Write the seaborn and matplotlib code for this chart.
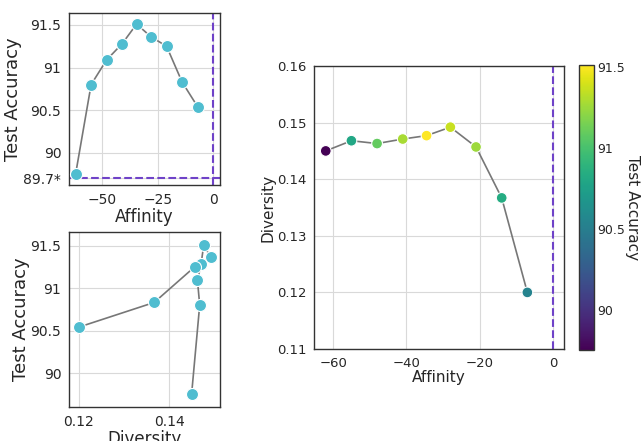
import numpy as np
import pandas as pd
import matplotlib
matplotlib.use('Agg')
import matplotlib.pyplot as plt
import seaborn as sns

affinity = [-62, -55, -48, -41, -34.5, -28, -21, -14, -7]
diversity = [0.1450, 0.1468, 0.1463, 0.1471, 0.1477, 0.1492, 0.1457, 0.1367, 0.1200]
accuracy = [89.75, 90.80, 91.09, 91.28, 91.51, 91.36, 91.25, 90.83, 90.54]
baseline_acc = 89.7
baseline_aff = 0

df = pd.DataFrame({'Affinity': affinity, 'Diversity': diversity, 'Test Accuracy': accuracy})

sns.set_style('whitegrid')
plt.rcParams['axes.edgecolor'] = '#333333'
plt.rcParams['axes.linewidth'] = 1.0
plt.rcParams['grid.color'] = '#d9d9d9'

purple = '#6f42c8'
dot = '#4fbdd0'
line_c = '#777777'

fig = plt.figure(figsize=(6.41, 4.41), dpi=100)
ax1 = fig.add_axes([0.1076, 0.5805, 0.2356, 0.390])
ax2 = fig.add_axes([0.1076, 0.0771, 0.2356, 0.397])
ax3 = fig.add_axes([0.4899, 0.2086, 0.390, 0.6417])
cax = fig.add_axes([0.9033, 0.2063, 0.0234, 0.646])

# accuracy vs affinity
sns.lineplot(data=df, x='Affinity', y='Test Accuracy', sort=False, color=line_c, lw=1.2, ax=ax1)
sns.scatterplot(data=df, x='Affinity', y='Test Accuracy', color=dot, s=75, edgecolor='white', linewidth=0.8, zorder=3, ax=ax1)
ax1.axhline(baseline_acc, color=purple, ls='--', lw=1.5)
ax1.axvline(baseline_aff, color=purple, ls='--', lw=1.5)
ax1.set_xlim(-65, 3.1)
ax1.set_ylim(89.62, 91.64)
ax1.set_yticks([89.7, 90, 90.5, 91, 91.5])
ax1.set_yticklabels(['89.7*', '90', '90.5', '91', '91.5'])
ax1.set_xticks([-50, -25, 0])
ax1.tick_params(labelsize=10, pad=2)
ax1.set_xlabel('Affinity', fontsize=12, labelpad=1)
ax1.set_ylabel('Test Accuracy', fontsize=13, labelpad=1)

# accuracy vs diversity
sns.lineplot(data=df, x='Diversity', y='Test Accuracy', sort=False, color=line_c, lw=1.2, ax=ax2)
sns.scatterplot(data=df, x='Diversity', y='Test Accuracy', color=dot, s=75, edgecolor='white', linewidth=0.8, zorder=3, ax=ax2)
ax2.set_xlim(0.1178, 0.1513)
ax2.set_ylim(89.6, 91.66)
ax2.set_yticks([90, 90.5, 91, 91.5])
ax2.set_yticklabels(['90', '90.5', '91', '91.5'])
ax2.set_xticks([0.12, 0.14])
ax2.tick_params(labelsize=10, pad=2)
ax2.set_xlabel('Diversity', fontsize=12, labelpad=1)
ax2.set_ylabel('Test Accuracy', fontsize=13, labelpad=0.5)

# diversity vs affinity coloured by accuracy
norm = plt.Normalize(min(accuracy), max(accuracy))
sns.lineplot(data=df, x='Affinity', y='Diversity', sort=False, color=line_c, lw=1.2, ax=ax3)
sns.scatterplot(data=df, x='Affinity', y='Diversity', hue='Test Accuracy', palette='viridis', hue_norm=norm,
                s=60, edgecolor='white', linewidth=0.8, zorder=3, legend=False, ax=ax3)
ax3.axvline(baseline_aff, color=purple, ls='--', lw=1.5)
ax3.set_xlim(-65.2, 3.0)
ax3.set_ylim(0.11, 0.16)
ax3.set_xticks([-60, -40, -20, 0])
ax3.tick_params(labelsize=9.5, pad=2)
ax3.set_xlabel('Affinity', fontsize=11, labelpad=0)
ax3.set_ylabel('Diversity', fontsize=11, labelpad=1)

sm = plt.cm.ScalarMappable(cmap='viridis', norm=norm)
cb = fig.colorbar(sm, cax=cax)
cb.set_ticks([90, 90.5, 91, 91.5])
cb.set_ticklabels(['90', '90.5', '91', '91.5'])
cb.ax.tick_params(labelsize=9, length=0, pad=2)
cb.set_label('Test Accuracy', rotation=270, fontsize=11, labelpad=11)
cb.outline.set_edgecolor('#333333')

fig.savefig('out.png', dpi=100)
